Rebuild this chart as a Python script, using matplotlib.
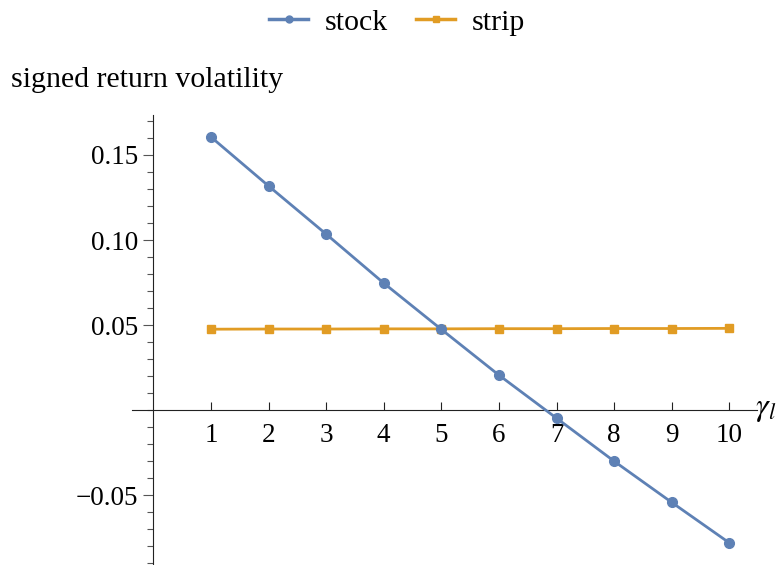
import matplotlib
matplotlib.use("Agg")
import matplotlib.pyplot as plt
from matplotlib.ticker import MultipleLocator, FixedLocator

gamma = [1, 2, 3, 4, 5, 6, 7, 8, 9, 10]
stock = [0.1606, 0.1318, 0.1035, 0.0747, 0.0475, 0.0206, -0.0047, -0.0300, -0.0542, -0.0780]
strip = [0.0476, 0.0477, 0.0477, 0.0478, 0.0478, 0.0479, 0.0479, 0.0480, 0.0480, 0.0481]
xticks = [1, 2, 3, 4, 5, 6, 7, 8, 9, 10]
yticks = [-0.05, 0.05, 0.10, 0.15]
ytick_labels = ["\u22120.05", "0.05", "0.10", "0.15"]

plt.rcParams['font.family'] = ['Liberation Serif', 'DejaVu Serif']
plt.rcParams['mathtext.fontset'] = 'stix'

fig = plt.figure(figsize=(7.83, 5.65), dpi=100)
ax = fig.add_axes([132/783, 0.0, (757-132)/783, (565-115)/565])

c_stock = "#5E81B5"
c_strip = "#E19C24"
ax.plot(gamma, strip, color=c_strip, lw=2, marker='s', ms=5.5, label='strip', zorder=3)
ax.plot(gamma, stock, color=c_stock, lw=2, marker='o', ms=7, label='stock', zorder=4)

ax.set_xlim(-0.37, 10.48)
ax.set_ylim(-0.091, 0.1735)

for s in ['top', 'right']:
    ax.spines[s].set_visible(False)
ax.spines['left'].set_position(('data', 0))
ax.spines['bottom'].set_position(('data', 0))
ax.spines['left'].set_color('#222222')
ax.spines['bottom'].set_color('#222222')

ax.xaxis.set_major_locator(FixedLocator(xticks))
ax.yaxis.set_major_locator(FixedLocator(yticks))
ax.set_yticklabels(ytick_labels)
ax.yaxis.set_minor_locator(MultipleLocator(0.01))
ax.xaxis.set_minor_locator(FixedLocator([]))

ax.tick_params(axis='x', direction='in', length=6, width=0.8, labelsize=19.5, pad=9, colors='#222222', labelcolor='black')
ax.tick_params(axis='y', which='major', direction='out', length=7, width=0.8, labelsize=19.5, pad=4, colors='#555555', labelcolor='black')
ax.tick_params(axis='y', which='minor', direction='out', length=4, width=0.8, colors='#555555')

fig.text(11/783, 1 - 80/565, "signed return volatility", fontsize=21.5, ha='left', va='center')
fig.text(755/783, 1 - 409/565, r"$\gamma_l$", fontsize=23, ha='left', va='center')

h, l = ax.get_legend_handles_labels()
leg = fig.legend([h[1], h[0]], [l[1], l[0]], loc='upper center', bbox_to_anchor=(0.507, 1.032), ncol=2,
                 frameon=False, fontsize=21.5, handlelength=1.3, columnspacing=0.95, handletextpad=0.55)
for lh in leg.legend_handles:
    lh.set_markersize(5)
    lh.set_linewidth(2.5)

fig.savefig("out.png", dpi=100)
